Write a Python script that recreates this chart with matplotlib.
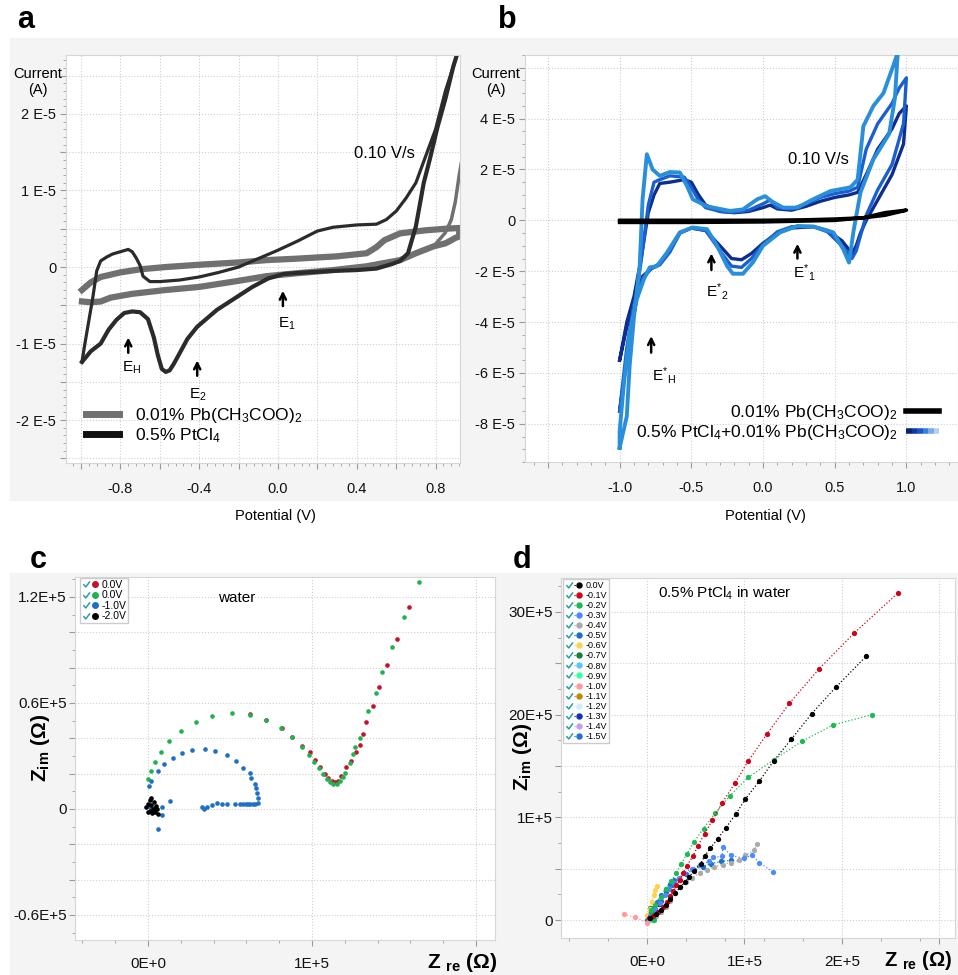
import matplotlib
matplotlib.use('Agg')
import matplotlib.pyplot as plt
from matplotlib.lines import Line2D
from matplotlib.path import Path
from matplotlib.patches import Rectangle
from matplotlib.collections import LineCollection
from matplotlib.legend_handler import HandlerTuple, HandlerBase
from matplotlib.ticker import MultipleLocator, FixedLocator, FixedFormatter

plt.rcParams['font.family'] = ['Liberation Sans', 'DejaVu Sans']
plt.rcParams['mathtext.fontset'] = 'custom'
plt.rcParams['mathtext.rm'] = 'Liberation Sans'
plt.rcParams['mathtext.it'] = 'Liberation Sans:italic'
plt.rcParams['mathtext.bf'] = 'Liberation Sans:bold'

# ---------------- data ----------------
# panel a  (current in 1E-5 A)
a_pt_E_fwd = [-0.995, -0.98, -0.96, -0.94, -0.92, -0.90, -0.87, -0.84, -0.80, -0.76, -0.74, -0.72, -0.70, -0.685,
              -0.65, -0.60, -0.50, -0.40, -0.30, -0.20, -0.10, 0.0, 0.10, 0.20, 0.28, 0.40, 0.50, 0.55, 0.60,
              0.65, 0.70, 0.75, 0.80, 0.85, 0.90, 0.93]
a_pt_I_fwd = [-1.24, -1.0, -0.7, -0.4, -0.05, 0.08, 0.13, 0.17, 0.2, 0.23, 0.2, 0.12, 0.02, -0.12,
              -0.19, -0.19, -0.17, -0.13, -0.07, 0.0, 0.11, 0.22, 0.34, 0.47, 0.52, 0.55, 0.56, 0.62, 0.73,
              0.9, 1.1, 1.45, 1.8, 2.3, 2.7, 2.95]
a_pt_E_rev = [0.93, 0.89, 0.85, 0.81, 0.77, 0.74, 0.70, 0.66, 0.62, 0.58, 0.50, 0.40, 0.28, 0.15, 0.03, -0.05,
              -0.13, -0.22, -0.31, -0.41, -0.46, -0.50, -0.53, -0.55, -0.57, -0.59, -0.61, -0.63, -0.66,
              -0.70, -0.74, -0.78, -0.82, -0.86, -0.90, -0.95, -0.995]
a_pt_I_rev = [2.95, 2.62, 2.2, 1.83, 1.4, 1.10, 0.53, 0.18, 0.08, 0.04, -0.02, -0.04, -0.05, -0.07, -0.09, -0.15,
              -0.26, -0.41, -0.56, -0.78, -0.94, -1.13, -1.27, -1.35, -1.37, -1.33, -1.15, -0.92, -0.68,
              -0.59, -0.58, -0.60, -0.69, -0.82, -1.0, -1.1, -1.24]

a_pb_E_fwd = [-0.995, -0.95, -0.90, -0.80, -0.70, -0.57, -0.40, -0.20, -0.06, 0.10, 0.30, 0.45, 0.50, 0.54,
              0.62, 0.75, 0.85, 0.92]
a_pb_I_fwd = [-0.30, -0.20, -0.13, -0.07, -0.03, 0.0, 0.03, 0.06, 0.09, 0.11, 0.14, 0.18, 0.26, 0.35,
              0.44, 0.48, 0.50, 0.51]
a_pb_E_rev = [0.92, 0.90, 0.88, 0.85, 0.79, 0.70, 0.62, 0.45, 0.28, 0.10, -0.06, -0.20, -0.40, -0.57, -0.74,
              -0.85, -0.90, -0.95, -0.995]
a_pb_I_rev = [0.40, 0.38, 0.35, 0.31, 0.27, 0.18, 0.09, 0.01, -0.04, -0.08, -0.12, -0.18, -0.26, -0.30, -0.35,
              -0.40, -0.45, -0.46, -0.45]
a_pb_E_tail = [0.80, 0.85, 0.88, 0.90, 0.92, 0.93]
a_pb_I_tail = [0.30, 0.45, 0.62, 0.85, 1.2, 1.35]

# panel b  (current in 1E-5 A)
b_pb_E = [-1.0, -0.5, 0.0, 0.3, 0.5, 0.7, 0.85, 1.0, 0.85, 0.7, 0.5, 0.0, -0.5, -1.0]
b_pb_I = [0.0, 0.0, 0.0, 0.02, 0.05, 0.1, 0.2, 0.4, 0.3, 0.1, 0.0, -0.06, -0.08, -0.08]

b_light_E = [-1.0, -0.95, -0.93, -0.90, -0.86, -0.84, -0.81, -0.77, -0.72, -0.65, -0.58, -0.53, -0.49, -0.39,
             -0.23, -0.14, -0.04, 0.015, 0.06, 0.14, 0.24, 0.35, 0.47, 0.61, 0.66, 0.70, 0.77, 0.84, 0.91,
             0.94, 0.92, 0.88, 0.77, 0.68, 0.63, 0.61, 0.60, 0.56, 0.49, 0.35, 0.24, 0.12, 0.0, -0.07,
             -0.14, -0.21, -0.25, -0.32, -0.39, -0.49, -0.58, -0.67, -0.74, -0.79, -0.83, -0.88, -0.93,
             -0.97, -1.0, -1.0]
b_light_I = [-8.94, -7.7, -5.7, -3.8, -1.8, 0.83, 2.6, 2.0, 1.75, 1.9, 1.88, 1.35, 0.83, 0.55,
             0.37, 0.43, 0.83, 0.95, 0.75, 0.5, 0.5, 0.83, 1.15, 1.3, 1.6, 3.7, 4.5, 5.0, 6.1,
             6.6, 4.8, 3.4, 2.4, 1.1, -0.47, -1.27, -1.66, -1.14, -0.47, -0.24, -0.22, -0.47, -1.0, -1.65,
             -2.1, -2.1, -1.8, -1.0, -0.35, -0.28, -0.47, -1.27, -1.8, -1.85, -2.3, -3.1, -4.4,
             -6.4, -8.3, -8.94]

b_dark_E = [-1.0, -0.95, -0.90, -0.85, -0.80, -0.76, -0.72, -0.65, -0.55, -0.50, -0.45, -0.40, -0.30, -0.20,
            -0.10, 0.0, 0.05, 0.10, 0.20, 0.30, 0.40, 0.50, 0.60, 0.66, 0.72, 0.80, 0.90, 0.95, 1.0, 0.98,
            0.90, 0.80, 0.72, 0.68, 0.65, 0.62, 0.55, 0.45, 0.35, 0.20, 0.10, 0.0, -0.08, -0.15, -0.22,
            -0.30, -0.40, -0.50, -0.58, -0.65, -0.72, -0.78, -0.84, -0.90, -0.95, -1.0]
b_dark_I = [-5.5, -4.0, -3.0, -1.5, 0.3, 1.0, 1.45, 1.5, 1.6, 1.5, 1.0, 0.6, 0.35, 0.3,
            0.35, 0.5, 0.6, 0.45, 0.4, 0.55, 0.75, 0.9, 1.0, 1.1, 1.8, 2.8, 3.6, 4.2, 4.5, 3.0,
            1.8, 0.8, 0.0, -0.5, -1.0, -1.3, -0.8, -0.4, -0.25, -0.3, -0.5, -0.9, -1.3, -1.55, -1.5,
            -1.0, -0.4, -0.3, -0.5, -1.2, -1.7, -1.9, -2.2, -3.2, -4.2, -5.5]
b_mid_E = b_dark_E
b_mid_I = [-7.5, -5.5, -3.5, -1.6, 0.6, 1.5, 1.6, 1.75, 1.7, 1.3, 0.8, 0.5, 0.35, 0.32,
           0.4, 0.65, 0.8, 0.5, 0.45, 0.65, 0.9, 1.05, 1.15, 1.3, 2.8, 3.8, 4.6, 5.2, 5.6, 3.8,
           2.2, 1.2, 0.2, -0.6, -1.2, -1.5, -1.0, -0.45, -0.25, -0.25, -0.45, -0.95, -1.5, -1.85, -1.8,
           -1.2, -0.4, -0.3, -0.5, -1.25, -1.75, -1.9, -2.3, -3.3, -5.0, -7.5]
b_grad_colors = ['#0a2570', '#12399c', '#1a56c4', '#3a7fdc', '#7aaae8', '#b5d0f3']

# panel c  (Z in 1E5 ohm)
c_red_x = [0.62, 0.72, 0.82, 0.88, 0.94, 0.99, 1.02, 1.05, 1.08, 1.10, 1.12, 1.14, 1.16, 1.18, 1.21, 1.24,
           1.27, 1.29, 1.31, 1.33, 1.37, 1.41, 1.46, 1.52, 1.59]
c_red_y = [0.535, 0.505, 0.46, 0.41, 0.355, 0.32, 0.275, 0.235, 0.20, 0.175, 0.16, 0.152, 0.158, 0.185, 0.239,
           0.27, 0.32, 0.362, 0.422, 0.494, 0.585, 0.689, 0.817, 0.964, 1.141]
c_green_x = [0.002, 0.016, 0.04, 0.079, 0.13, 0.20, 0.29, 0.39, 0.51, 0.62, 0.72, 0.81, 0.88, 0.94, 0.98,
             1.01, 1.04, 1.07, 1.09, 1.11, 1.13, 1.15, 1.17, 1.19, 1.20, 1.23, 1.25, 1.26, 1.29, 1.34,
             1.39, 1.43, 1.49, 1.56, 1.65]
c_green_y = [0.168, 0.215, 0.266, 0.324, 0.385, 0.443, 0.494, 0.526, 0.542, 0.534, 0.504, 0.456, 0.406, 0.353,
             0.306, 0.268, 0.230, 0.195, 0.170, 0.152, 0.141, 0.142, 0.160, 0.180, 0.203, 0.260, 0.31, 0.351,
             0.404, 0.555, 0.655, 0.773, 0.915, 1.085, 1.287]
c_blue_x = [0.006, 0.016, 0.063, 0.10, 0.15, 0.21, 0.27, 0.35, 0.41, 0.48, 0.535, 0.58, 0.62, 0.63, 0.65,
            0.66, 0.667, 0.67, 0.67, 0.655, 0.64, 0.625, 0.61, 0.595, 0.58, 0.56, 0.53, 0.48, 0.45, 0.42,
            0.39, 0.36, 0.34, 0.33, 0.134, 0.083, 0.087, 0.061, 0.04, 0.01]
c_blue_y = [0.130, 0.16, 0.215, 0.253, 0.286, 0.319, 0.334, 0.337, 0.328, 0.306, 0.273, 0.229, 0.201, 0.174,
            0.142, 0.12, 0.089, 0.06, 0.032, 0.03, 0.03, 0.03, 0.03, 0.03, 0.03, 0.03, 0.026, 0.03, 0.03,
            0.032, 0.02, 0.013, 0.0, 0.01, 0.047, 0.013, -0.034, -0.115, 0.0, 0.01]
c_black_x = [-0.01, 0.0, 0.01, 0.015, 0.02, 0.03, 0.035, 0.045, 0.05, 0.06, 0.0, 0.02, 0.04, 0.025, 0.055]
c_black_y = [0.01, 0.03, 0.05, -0.01, 0.02, 0.0, 0.04, -0.02, 0.015, -0.03, -0.015, 0.06, 0.005, -0.025, 0.0]
c_labels = ['0.0V', '0.0V', '-1.0V', '-2.0V']
c_colors = ['#c8102e', '#1fb34f', '#1f6fc5', '#000000']

# panel d  (Z in 1E5 ohm)
d_v00_x = [0.03, 0.09, 0.14, 0.19, 0.24, 0.29, 0.34, 0.39, 0.43, 0.485, 0.55, 0.59, 0.65, 0.725, 0.81, 0.91,
           1.01, 1.15, 1.30, 1.48, 1.69, 1.94, 2.25]
d_v00_y = [0.02, 0.06, 0.10, 0.15, 0.20, 0.26, 0.32, 0.37, 0.42, 0.48, 0.55, 0.62, 0.70, 0.79, 0.90, 1.03,
           1.18, 1.35, 1.55, 1.76, 2.01, 2.27, 2.57]
d_v01_x = [0.02, 0.06, 0.11, 0.16, 0.21, 0.24, 0.27, 0.30, 0.34, 0.37, 0.41, 0.47, 0.52, 0.59, 0.67, 0.77,
           0.90, 1.04, 1.23, 1.46, 1.76, 2.12, 2.57]
d_v01_y = [0.02, 0.04, 0.08, 0.13, 0.18, 0.23, 0.28, 0.34, 0.39, 0.46, 0.53, 0.62, 0.72, 0.84, 0.97, 1.14,
           1.33, 1.55, 1.81, 2.11, 2.44, 2.79, 3.18]
d_v02_x = [0.07, 0.05, 0.04, 0.08, 0.14, 0.19, 0.25, 0.30, 0.35, 0.41, 0.48, 0.58, 0.70, 0.85, 1.04, 1.30,
           1.59, 1.91, 2.31]
d_v02_y = [0.0, 0.03, 0.10, 0.15, 0.22, 0.30, 0.38, 0.46, 0.55, 0.64, 0.76, 0.89, 1.04, 1.21, 1.39, 1.56,
           1.74, 1.90, 2.0]
d_v03_x = [0.03, 0.08, 0.13, 0.18, 0.23, 0.28, 0.33, 0.38, 0.46, 0.54, 0.64, 0.68, 0.77, 0.78, 0.86, 0.99,
           1.08, 1.15, 1.29]
d_v03_y = [0.04, 0.11, 0.17, 0.24, 0.30, 0.36, 0.41, 0.46, 0.50, 0.54, 0.57, 0.61, 0.62, 0.71, 0.63, 0.60,
           0.63, 0.56, 0.47]
d_v04_x = [0.04, 0.09, 0.14, 0.19, 0.24, 0.29, 0.34, 0.40, 0.46, 0.54, 0.62, 0.69, 0.78, 0.86, 0.94, 1.01,
           1.10, 1.13]
d_v04_y = [0.02, 0.04, 0.08, 0.13, 0.19, 0.26, 0.32, 0.37, 0.41, 0.46, 0.49, 0.52, 0.54, 0.56, 0.58, 0.63,
           0.68, 0.74]
d_v05_x = [0.03, 0.08, 0.14, 0.20, 0.26, 0.33, 0.40, 0.48, 0.57, 0.66, 0.76, 0.86]
d_v05_y = [0.04, 0.11, 0.19, 0.27, 0.34, 0.40, 0.45, 0.49, 0.52, 0.55, 0.57, 0.58]
d_v06_x = [0.0, 0.03, 0.05, 0.07, 0.08, 0.10]
d_v06_y = [0.05, 0.11, 0.18, 0.24, 0.29, 0.33]
d_v07_x = [0.06, 0.05, 0.04, 0.03]
d_v07_y = [0.01, 0.04, 0.08, 0.12]
d_v08_x = [0.02, 0.04, 0.06]
d_v08_y = [0.02, 0.05, 0.08]
d_v09_x = [0.04, 0.06, 0.07]
d_v09_y = [0.0, 0.01, 0.03]
d_v10_x = [-0.24, -0.12, 0.0, 0.02]
d_v10_y = [0.055, 0.03, -0.03, 0.0]
d_v11_x = [0.03, 0.05]
d_v11_y = [0.03, 0.06]
d_v12_x = [0.02, 0.04]
d_v12_y = [0.01, 0.03]
d_v13_x = [0.05, 0.08, 0.12]
d_v13_y = [0.05, 0.10, 0.16]
d_v14_x = [0.03, 0.05]
d_v14_y = [0.02, 0.04]
d_v15_x = [0.0, 0.03, 0.06, 0.10, 0.14, 0.19, 0.24, 0.28]
d_v15_y = [0.0, 0.06, 0.12, 0.18, 0.24, 0.30, 0.35, 0.39]
d_labels = ['0.0V', '-0.1V', '-0.2V', '-0.3V', '-0.4V', '-0.5V', '-0.6V', '-0.7V', '-0.8V', '-0.9V',
            '-1.0V', '-1.1V', '-1.2V', '-1.3V', '-1.4V', '-1.5V']
d_colors = ['#000000', '#d0021b', '#1db954', '#4a8cff', '#aaaaaa', '#1a6fc9', '#ffd24d', '#1a7f37',
            '#55c8ff', '#3dfc9c', '#ff9a9a', '#c08a00', '#cdeeff', '#1030c0', '#c9a0e8', '#1f73d6']
d_xs = [d_v00_x, d_v01_x, d_v02_x, d_v03_x, d_v04_x, d_v05_x, d_v06_x, d_v07_x, d_v08_x, d_v09_x,
        d_v10_x, d_v11_x, d_v12_x, d_v13_x, d_v14_x, d_v15_x]
d_ys = [d_v00_y, d_v01_y, d_v02_y, d_v03_y, d_v04_y, d_v05_y, d_v06_y, d_v07_y, d_v08_y, d_v09_y,
        d_v10_y, d_v11_y, d_v12_y, d_v13_y, d_v14_y, d_v15_y]

# ---------------- figure ----------------
W, H = 958, 975
fig = plt.figure(figsize=(W / 100, H / 100), dpi=100)


def box(l, t, r, b):
    return [l / W, 1 - b / H, (r - l) / W, (b - t) / H]


fig.patches.append(Rectangle((10 / W, 1 - 500 / H), 948 / W, 462 / H, transform=fig.transFigure,
                             color='#f4f4f4', zorder=-10))
fig.patches.append(Rectangle((10 / W, 0), 948 / W, 402 / H, transform=fig.transFigure,
                             color='#f4f4f4', zorder=-10))


def style(ax, xpad=10, ypad=3, fs=10.5):
    ax.set_facecolor('white')
    for s in ax.spines.values():
        s.set_color('#d6d6d6')
        s.set_linewidth(0.8)
    ax.tick_params(which='both', direction='out', color='#9a9a9a', labelcolor='#111111')
    ax.tick_params(which='major', length=4, width=0.8, labelsize=fs)
    ax.tick_params(which='minor', length=2, width=0.6)
    ax.tick_params(axis='x', pad=xpad)
    ax.tick_params(axis='y', pad=ypad)
    ax.grid(True, which='major', ls=':', color='#cfcfcf', lw=0.8)
    ax.set_axisbelow(True)


def set_ticks(axis, pos, labels):
    axis.set_major_locator(FixedLocator(pos))
    axis.set_major_formatter(FixedFormatter(labels))


def up_arrow(ax, x, y0, y1):
    ax.annotate('', xy=(x, y1), xytext=(x, y0),
                arrowprops=dict(arrowstyle='->', lw=1.8, color='black', shrinkA=0, shrinkB=0,
                                mutation_scale=11))


class GradientHandler(HandlerBase):
    def create_artists(self, legend, orig_handle, xdescent, ydescent, width, height, fontsize, trans):
        n = len(b_grad_colors)
        y = (height - ydescent) / 2
        segs = [[(-xdescent + width * i / n, y), (-xdescent + width * (i + 1) / n, y)] for i in range(n)]
        return [LineCollection(segs, colors=b_grad_colors, linewidths=4, transform=trans, capstyle='butt')]


check_path = Path([(-0.9, 0.1), (-0.2, -0.7), (1.0, 0.9)], [Path.MOVETO, Path.LINETO, Path.LINETO])


def check_handle():
    return Line2D([], [], marker=check_path, ls='none', markerfacecolor='none',
                  markeredgecolor='#2a9d9d', markeredgewidth=1.1, markersize=5)


# ---- panel a ----
ax = fig.add_axes(box(66, 55, 460, 463))
style(ax)
ax.plot(a_pb_E_fwd + a_pb_E_rev, a_pb_I_fwd + a_pb_I_rev, color='#707070', lw=4.5, solid_joinstyle='round')
ax.plot(a_pb_E_tail, a_pb_I_tail, color='#707070', lw=2.5)
ax.plot(a_pt_E_fwd, a_pt_I_fwd, color='#2b2b2b', lw=2.3)
ax.plot(a_pt_E_rev, a_pt_I_rev, color='#2b2b2b', lw=3.0)
ax.set_xlim(-1.076, 0.924)
ax.set_ylim(-2.56, 2.77)
set_ticks(ax.xaxis, [-1.0, -0.8, -0.6, -0.4, -0.2, 0.0, 0.2, 0.4, 0.6, 0.8],
          ['', '-0.8', '', '-0.4', '', '0.0', '', '0.4', '', '0.8'])
set_ticks(ax.yaxis, [-2.5, -2.0, -1.5, -1.0, -0.5, 0.0, 0.5, 1.0, 1.5, 2.0, 2.5],
          ['', '-2 E-5', '', '-1 E-5', '', '0', '', '1 E-5', '', '2 E-5', ''])
ax.xaxis.set_minor_locator(MultipleLocator(0.04))
ax.yaxis.set_minor_locator(MultipleLocator(0.1))
ax.text(0.54, 1.48, '0.10 V/s', fontsize=12, ha='center', va='center')
up_arrow(ax, -0.76, -1.12, -0.92)
ax.text(-0.745, -1.32, r'E$_\mathrm{H}$', fontsize=11, ha='center', va='center')
up_arrow(ax, -0.41, -1.42, -1.22)
ax.text(-0.405, -1.67, r'E$_\mathrm{2}$', fontsize=11, ha='center', va='center')
up_arrow(ax, 0.025, -0.51, -0.31)
ax.text(0.045, -0.74, r'E$_\mathrm{1}$', fontsize=11, ha='center', va='center')
ha = [Line2D([], [], color='#707070', lw=5), Line2D([], [], color='#111111', lw=5)]
ax.legend(ha, ['0.01% Pb(CH$_3$COO)$_2$', '0.5% PtCl$_4$'], loc='lower left', bbox_to_anchor=(0.02, 0.015),
          frameon=False, fontsize=12.5, handlelength=1.9, handletextpad=0.9, labelspacing=0.05, borderpad=0.2)
fig.text(38 / W, 1 - 82 / H, 'Current\n(A)', ha='center', va='center', fontsize=10.5, linespacing=1.25)
fig.text(275 / W, 1 - 516 / H, 'Potential (V)', ha='center', va='center', fontsize=10.5)

# ---- panel b ----
ax = fig.add_axes(box(525, 55, 958, 462))
style(ax)
ax.plot(b_pb_E, b_pb_I, color='black', lw=2.6, zorder=4)
ax.plot(b_dark_E, b_dark_I, color='#0d2d8f', lw=2.4, zorder=3)
ax.plot(b_mid_E, b_mid_I, color='#1a5fd0', lw=2.4, zorder=3)
ax.plot(b_light_E, b_light_I, color='#2a8fdb', lw=2.8, zorder=3)
ax.set_xlim(-1.66, 1.36)
ax.set_ylim(-9.5, 6.5)
set_ticks(ax.xaxis, [-1.5, -1.0, -0.5, 0.0, 0.5, 1.0], ['', '-1.0', '-0.5', '0.0', '0.5', '1.0'])
set_ticks(ax.yaxis, [-8, -6, -4, -2, 0, 2, 4, 6],
          ['-8 E-5', '-6 E-5', '-4 E-5', '-2 E-5', '0', '2 E-5', '4 E-5', ''])
ax.xaxis.set_minor_locator(MultipleLocator(0.1))
ax.yaxis.set_minor_locator(MultipleLocator(0.5))
ax.text(0.385, 2.4, '0.10 V/s', fontsize=12, ha='center', va='center')
up_arrow(ax, -0.36, -1.95, -1.3)
ax.text(-0.32, -2.8, r'E$^{*}$$_{2}$', fontsize=11, ha='center', va='center')
up_arrow(ax, 0.24, -1.5, -0.92)
ax.text(0.29, -2.05, r'E$^{*}$$_{1}$', fontsize=11, ha='center', va='center')
up_arrow(ax, -0.78, -5.2, -4.55)
ax.text(-0.69, -6.1, r'E$^{*}$$_\mathrm{H}$', fontsize=11, ha='center', va='center')
grad_handle = Line2D([], [], color='#1a56c4')
hb = [Line2D([], [], color='black', lw=4), grad_handle]
ax.legend(hb, ['0.01% Pb(CH$_3$COO)$_2$', '0.5% PtCl$_4$+0.01% Pb(CH$_3$COO)$_2$'], loc='lower right',
          bbox_to_anchor=(0.985, 0.02), frameon=False, fontsize=12.5, markerfirst=False, handlelength=1.9,
          handletextpad=0.5, labelspacing=0.05, borderpad=0.2, handler_map={grad_handle: GradientHandler()})
fig.text(496 / W, 1 - 82 / H, 'Current\n(A)', ha='center', va='center', fontsize=10.5, linespacing=1.25)
fig.text(765 / W, 1 - 516 / H, 'Potential (V)', ha='center', va='center', fontsize=10.5)

# ---- panel c ----
ax = fig.add_axes(box(75, 577, 495, 940))
style(ax, xpad=8, ypad=2, fs=11)
ax.scatter(c_red_x, c_red_y, s=11, color=c_colors[0], linewidths=0, zorder=3)
ax.scatter(c_green_x, c_green_y, s=11, color=c_colors[1], linewidths=0, zorder=3)
ax.scatter(c_blue_x, c_blue_y, s=11, color=c_colors[2], linewidths=0, zorder=3)
ax.scatter(c_black_x, c_black_y, s=11, color=c_colors[3], linewidths=0, zorder=4)
ax.set_xlim(-0.445, 2.116)
ax.set_ylim(-0.742, 1.313)
set_ticks(ax.xaxis, [0, 1, 2], ['0E+0', '1E+5', ''])
set_ticks(ax.yaxis, [-0.6, -0.4, -0.2, 0.0, 0.2, 0.4, 0.6, 0.8, 1.0, 1.2],
          ['-0.6E+5', '', '', '0', '', '', '0.6E+5', '', '', '1.2E+5'])
ax.xaxis.set_minor_locator(MultipleLocator(0.2))
ax.yaxis.set_minor_locator(MultipleLocator(0.1))
ax.text(0.386, 0.942, 'water', transform=ax.transAxes, fontsize=11, ha='center', va='center')
hc = [(check_handle(), Line2D([], [], marker='o', ls='none', color=c, markersize=4)) for c in c_colors]
ax.legend(hc, c_labels, loc='upper left', bbox_to_anchor=(0.012, 0.997), fontsize=7.5, frameon=True,
          fancybox=False, edgecolor='#cccccc', framealpha=1, handlelength=1.7, handletextpad=0.2,
          labelspacing=0.05, borderpad=0.15, borderaxespad=0,
          handler_map={tuple: HandlerTuple(ndivide=None, pad=0.2)})
fig.text(40 / W, 1 - 748 / H, r'Z$_{\mathbf{im}}$ (Ω)', rotation=90, ha='center', va='center',
         fontsize=15, fontweight='bold')
fig.text(462 / W, 1 - 962 / H, r'Z $_{\mathbf{re}}$ (Ω)', ha='center', va='center', fontsize=15,
         fontweight='bold')

# ---- panel d ----
ax = fig.add_axes(box(561, 578, 955, 938))
style(ax, xpad=8, ypad=2, fs=11)
for xs, ys, c in reversed(list(zip(d_xs, d_ys, d_colors))):
    ax.plot(xs, ys, ls=':', lw=0.9, color=c, marker='o', markersize=3.8, markeredgewidth=0, zorder=3)
ax.set_xlim(-0.882, 3.159)
ax.set_ylim(-0.175, 3.33)
set_ticks(ax.xaxis, [0, 1, 2, 3], ['0E+0', '1E+5', '2E+5', ''])
set_ticks(ax.yaxis, [0.0, 0.5, 1.0, 1.5, 2.0, 2.5, 3.0], ['0', '', '1E+5', '', '20E+5', '', '30E+5'])
ax.xaxis.set_minor_locator(MultipleLocator(0.4))
ax.yaxis.set_minor_locator(MultipleLocator(0.25))
ax.text(0.416, 0.958, '0.5% PtCl$_4$ in water', transform=ax.transAxes, fontsize=11, ha='center',
        va='center')
hd = [(check_handle(), Line2D([], [], marker='o', ls=':', lw=0.9, color=c, markersize=3.6)) for c in d_colors]
ax.legend(hd, d_labels, loc='upper left', bbox_to_anchor=(0.005, 0.997), fontsize=6.5, frameon=True,
          fancybox=False, edgecolor='#cccccc', framealpha=1, handlelength=2.0, handletextpad=0.3,
          labelspacing=0.12, borderpad=0.2, borderaxespad=0,
          handler_map={tuple: HandlerTuple(ndivide=None, pad=0.1)})
fig.text(522 / W, 1 - 757 / H, r'Z$_{\mathbf{im}}$ (Ω)', rotation=90, ha='center', va='center',
         fontsize=15, fontweight='bold')
fig.text(952 / W, 1 - 960 / H, r'Z $_{\mathbf{re}}$ (Ω)', ha='right', va='center', fontsize=14.5,
         fontweight='bold')

# panel letters
for px, py, s in [(26, 20, 'a'), (507, 20, 'b'), (38, 560, 'c'), (522, 560, 'd')]:
    fig.text(px / W, 1 - py / H, s, fontsize=22, fontweight='bold', ha='center', va='center')

fig.savefig('out.png', dpi=100)
